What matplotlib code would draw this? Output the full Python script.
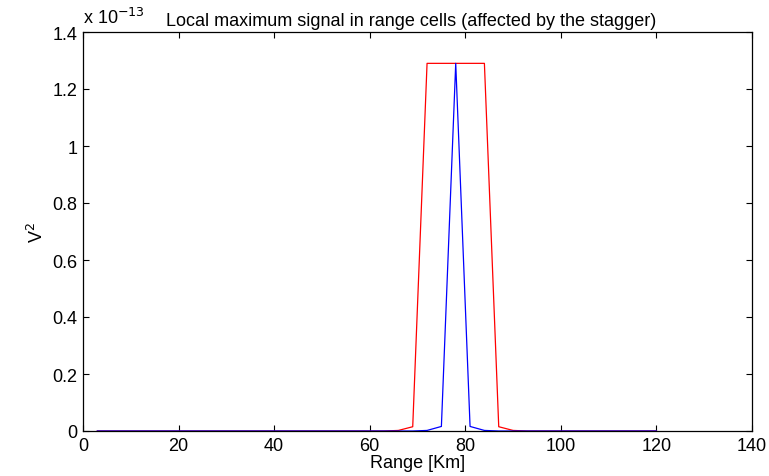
import numpy as np
import matplotlib
matplotlib.use("Agg")
import matplotlib.pyplot as plt

plt.rcParams['font.family'] = ['Liberation Sans', 'DejaVu Sans']

# Range cells [Km]
range_km = np.arange(3, 121, 3)
scale_exp = -13
# values in units of 1e-13 V^2
red_vals = np.zeros(len(range_km))
blue_vals = np.zeros(len(range_km))
red_map = {66: 0.002, 69: 0.015, 72: 1.29, 75: 1.29, 78: 1.29, 81: 1.29, 84: 1.29, 87: 0.015, 90: 0.002}
blue_map = {72: 0.002, 75: 0.016, 78: 1.29, 81: 0.016, 84: 0.002}
for k, v in red_map.items():
    red_vals[list(range_km).index(k)] = v
for k, v in blue_map.items():
    blue_vals[list(range_km).index(k)] = v

title = "Local maximum signal in range cells (affected by the stagger)"
xlabel = "Range [Km]"
ylabel = "V$^2$"
xticks = [0, 20, 40, 60, 80, 100, 120, 140]
yticks = [0, 0.2, 0.4, 0.6, 0.8, 1.0, 1.2, 1.4]
yticklabels = ["0", "0.2", "0.4", "0.6", "0.8", "1", "1.2", "1.4"]

FS = 13
W, H = 769, 477
fig = plt.figure(figsize=(W / 100, H / 100), dpi=100)
ax = fig.add_axes([83 / W, 1 - 432 / H, (752 - 83) / W, (432 - 33) / H])

ax.plot(range_km, red_vals, color='#ff0000', lw=0.9)
ax.plot(range_km, blue_vals, color='#0000ff', lw=0.9)

ax.set_xlim(0, 140)
ax.set_ylim(0, 1.4)
ax.set_xticks(xticks)
ax.set_yticks(yticks)
ax.set_yticklabels(yticklabels)
ax.tick_params(direction='in', length=4, width=0.8, top=True, right=True, labelsize=FS)
ax.tick_params(axis='y', pad=4)
ax.tick_params(axis='x', pad=4)
for s in ax.spines.values():
    s.set_linewidth(0.9)

ax.set_xlabel(xlabel, fontsize=FS, labelpad=0)
ax.set_ylabel(ylabel, fontsize=FS, labelpad=4)
ax.set_title(title, fontsize=FS, pad=5, x=(411 - 83) / (752 - 83))
ax.text(0.0, 1.012, "x 10$^{%d}$" % scale_exp, transform=ax.transAxes, fontsize=FS,
        ha='left', va='bottom')

fig.savefig("out.png", dpi=100)
